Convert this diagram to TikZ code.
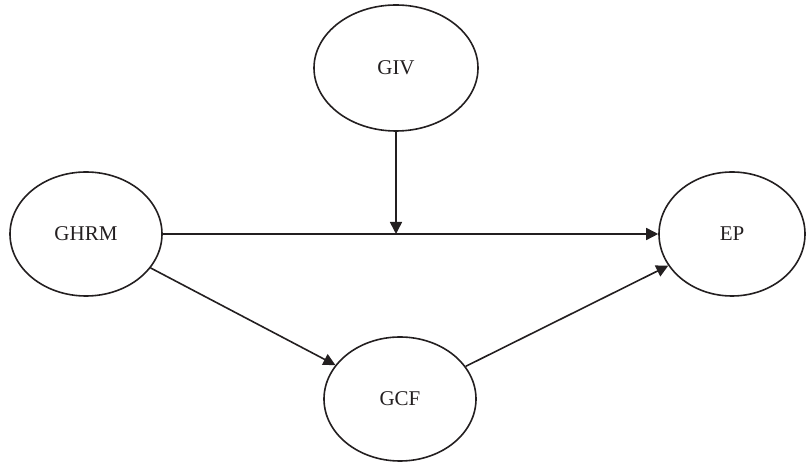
\documentclass[tikz,border=0pt]{standalone}
\usepackage{fontspec}
\setmainfont{Liberation Serif}
\usetikzlibrary{shapes.geometric,arrows.meta}
\definecolor{ink}{HTML}{231F20}
\begin{document}
\begin{tikzpicture}[x=1pt,y=1pt,
  oval/.style={ellipse,draw=ink,line width=1.6pt,inner sep=0pt,text=ink,font=\fontsize{21}{25}\selectfont},
  link/.style={draw=ink,line width=1.6pt,-{Triangle[length=12pt,width=12pt]}}]
\useasboundingbox (0,0) rectangle (806,463);
\node[oval,minimum width=164pt,minimum height=126pt] (GIV) at (396,395) {GIV};
\node[oval,minimum width=152pt,minimum height=124pt] (GHRM) at (86,229) {GHRM};
\node[oval,minimum width=146pt,minimum height=124pt] (EP) at (732,229) {EP};
\node[oval,minimum width=152pt,minimum height=124pt] (GCF) at (400,64) {GCF};
\coordinate (m) at (GIV.south |- GHRM.east);
\draw[link] (GHRM.east) -- (EP.west);
\draw[link] (GIV.south) -- (m);
\draw[link] (GHRM) -- (GCF);
\draw[link] (GCF) -- (EP);
\end{tikzpicture}
\end{document}
